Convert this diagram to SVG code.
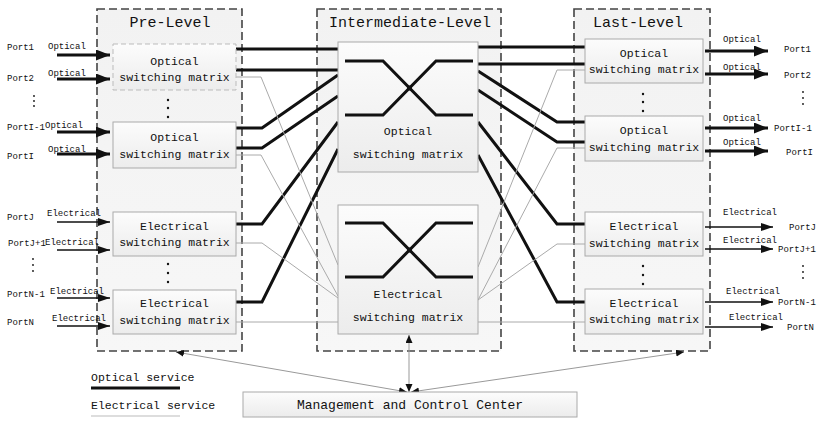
<svg xmlns="http://www.w3.org/2000/svg" width="818" height="421" viewBox="0 0 818 421">
<style>
text{font-family:"Liberation Mono","DejaVu Sans Mono",monospace;fill:#111}
.lvl{fill:url(#lvlg);stroke:#444;stroke-width:1.6;stroke-dasharray:8,4}
.box{fill:url(#boxg);stroke:#aaa;stroke-width:1}
.ttl{font-size:15px;text-anchor:middle}
.bt{font-size:11.5px;text-anchor:middle}
.pl{font-size:9px}
.thick{fill:none;stroke:#111;stroke-width:3}
.thin{fill:none;stroke:#aaa;stroke-width:1}
.oin{stroke:#111;stroke-width:3;marker-end:url(#ah)}
.ein{stroke:#111;stroke-width:1.5;marker-end:url(#ahs)}
.mgmt{stroke:#999;stroke-width:1;fill:none;marker-start:url(#am);marker-end:url(#am)}
.dot{fill:#111}
</style>
<defs>
<linearGradient id="lvlg" x1="0" y1="0" x2="0" y2="1"><stop offset="0" stop-color="#f2f2f2"/><stop offset="1" stop-color="#f7f7f7"/></linearGradient>
<linearGradient id="boxg" x1="0" y1="0" x2="0" y2="1"><stop offset="0" stop-color="#fcfcfc"/><stop offset="1" stop-color="#ececec"/></linearGradient>
<marker id="ah" markerUnits="userSpaceOnUse" markerWidth="16" markerHeight="12" refX="14" refY="5.5" orient="auto"><path d="M0,0 L14,5.5 L0,11 z" fill="#111"/></marker>
<marker id="ahs" markerUnits="userSpaceOnUse" markerWidth="14" markerHeight="10" refX="12" refY="4" orient="auto"><path d="M0,0 L12,4 L0,8 z" fill="#111"/></marker>
<marker id="am" markerUnits="userSpaceOnUse" markerWidth="10" markerHeight="8" refX="8" refY="3.5" orient="auto-start-reverse"><path d="M0,0 L8,3.5 L0,7 z" fill="#111"/></marker>
</defs>
<rect width="818" height="421" fill="#fff"/>

<g id="pre-level">
<rect class="lvl" x="97" y="9" width="145" height="342"/>
<text class="ttl" x="170" y="27">Pre-Level</text>
<circle class="dot" cx="168" cy="100" r="1.2"/><circle class="dot" cx="168" cy="108" r="1.2"/><circle class="dot" cx="168" cy="117" r="1.2"/>
<circle class="dot" cx="168" cy="264" r="1.2"/><circle class="dot" cx="168" cy="273" r="1.2"/><circle class="dot" cx="168" cy="282" r="1.2"/>
</g>
<g id="intermediate-level">
<rect class="lvl" x="317" y="9" width="184" height="342"/>
<text class="ttl" x="410" y="27">Intermediate-Level</text>
</g>
<g id="last-level">
<rect class="lvl" x="574" y="9" width="136" height="342"/>
<text class="ttl" x="638" y="27">Last-Level</text>
<circle class="dot" cx="643" cy="94" r="1.2"/><circle class="dot" cx="643" cy="102" r="1.2"/><circle class="dot" cx="643" cy="111" r="1.2"/>
<circle class="dot" cx="643" cy="266" r="1.2"/><circle class="dot" cx="643" cy="275" r="1.2"/><circle class="dot" cx="643" cy="284" r="1.2"/>
</g>

<g id="connectors">
<path class="thick" d="M236,49 H338 M236,70 H338 M236,128 H262 L338,75 M236,148 H262 L338,96 M236,224 H262 L338,122 M236,302 H262 L338,149"/>
<path class="thin" d="M236,77 H261 L338,265 M236,155 H261 L338,296 M236,243 H262 L338,298 M236,322 H338"/>
<path class="thick" d="M478,47 H585 M478,64 H585 M478,71 L557,122 H585 M478,90 L557,142 H585 M478,122 L557,224 H585 M478,155 L557,302 H585"/>
<path class="thin" d="M585,70 H557 L478,267 M585,148 H557 L478,300 M585,244 H557 L478,300 M478,322 H585"/>
<line class="oin" x1="57" y1="55" x2="110" y2="55"/>
<line class="oin" x1="57" y1="79" x2="110" y2="79"/>
<line class="oin" x1="57" y1="132" x2="110" y2="132"/>
<line class="oin" x1="57" y1="154" x2="110" y2="154"/>
<line class="ein" x1="57" y1="222" x2="110" y2="222"/>
<line class="ein" x1="57" y1="250" x2="110" y2="250"/>
<line class="ein" x1="57" y1="298" x2="110" y2="298"/>
<line class="ein" x1="57" y1="326" x2="110" y2="326"/>
<line class="oin" x1="705" y1="51" x2="768" y2="51"/>
<line class="oin" x1="705" y1="74" x2="768" y2="74"/>
<line class="oin" x1="705" y1="128" x2="768" y2="128"/>
<line class="oin" x1="705" y1="151" x2="768" y2="151"/>
<line class="ein" x1="705" y1="227" x2="773" y2="227"/>
<line class="ein" x1="705" y1="249" x2="773" y2="249"/>
<line class="ein" x1="705" y1="302" x2="773" y2="302"/>
<line class="ein" x1="705" y1="327" x2="773" y2="327"/>
<line class="mgmt" x1="409" y1="392" x2="409" y2="335"/>
<line class="mgmt" x1="407" y1="392" x2="176" y2="352"/>
<line class="mgmt" x1="411" y1="392" x2="684" y2="352"/>
</g>

<g id="pre-opt1">
<rect x="113" y="44" width="123" height="46" fill="url(#boxg)" stroke="#bbb" stroke-dasharray="5,3"/>
<text class="bt" x="174.5" y="65">Optical</text><text class="bt" x="174.5" y="81">switching matrix</text>
</g>
<g id="pre-opt2">
<rect class="box" x="113" y="122" width="123" height="46"/>
<text class="bt" x="174.5" y="141">Optical</text><text class="bt" x="174.5" y="158">switching matrix</text>
</g>
<g id="pre-ele1">
<rect class="box" x="113" y="212" width="123" height="44"/>
<text class="bt" x="174.5" y="230">Electrical</text><text class="bt" x="174.5" y="246">switching matrix</text>
</g>
<g id="pre-ele2">
<rect class="box" x="113" y="290" width="123" height="44"/>
<text class="bt" x="174.5" y="307">Electrical</text><text class="bt" x="174.5" y="324">switching matrix</text>
</g>

<g id="mid-opt">
<rect class="box" x="338" y="42" width="140" height="130"/>
<path class="thick" d="M345,61 H383 L436,115 H473 M345,115 H383 L436,61 H473"/>
<circle cx="409.5" cy="88" r="2.5" fill="#111"/>
<text class="bt" x="408" y="135">Optical</text><text class="bt" x="408" y="158">switching matrix</text>
</g>
<g id="mid-ele">
<rect class="box" x="338" y="205" width="140" height="129"/>
<path class="thick" d="M345,223 H383 L436,277 H473 M345,277 H383 L436,223 H473"/>
<circle cx="409.5" cy="250" r="2.5" fill="#111"/>
<text class="bt" x="408" y="298">Electrical</text><text class="bt" x="408" y="321">switching matrix</text>
</g>

<g id="last-opt1">
<rect class="box" x="585" y="39" width="118" height="44"/>
<text class="bt" x="644" y="57">Optical</text><text class="bt" x="644" y="73">switching matrix</text>
</g>
<g id="last-opt2">
<rect class="box" x="585" y="116" width="118" height="45"/>
<text class="bt" x="644" y="134">Optical</text><text class="bt" x="644" y="151">switching matrix</text>
</g>
<g id="last-ele1">
<rect class="box" x="585" y="212" width="118" height="44"/>
<text class="bt" x="644" y="230">Electrical</text><text class="bt" x="644" y="247">switching matrix</text>
</g>
<g id="last-ele2">
<rect class="box" x="585" y="289" width="118" height="45"/>
<text class="bt" x="644" y="307">Electrical</text><text class="bt" x="644" y="323">switching matrix</text>
</g>

<g id="in-ports">
<text class="pl" x="7" y="50">Port1</text><text class="pl" x="48" y="49">Optical</text>
<text class="pl" x="7" y="81">Port2</text><text class="pl" x="48" y="76">Optical</text>
<circle class="dot" cx="34" cy="96" r="0.9"/><circle class="dot" cx="34" cy="101" r="0.9"/><circle class="dot" cx="34" cy="106" r="0.9"/>
<text class="pl" x="7" y="130">PortI-1</text><text class="pl" x="45" y="128">Optical</text>
<text class="pl" x="7" y="159">PortI</text><text class="pl" x="48" y="152">Optical</text>
<text class="pl" x="7" y="220">PortJ</text><text class="pl" x="47" y="216">Electrical</text>
<text class="pl" x="8" y="246">PortJ+1</text><text class="pl" x="45" y="245">Electrical</text>
<circle class="dot" cx="33" cy="259" r="0.9"/><circle class="dot" cx="33" cy="265" r="0.9"/><circle class="dot" cx="33" cy="271" r="0.9"/>
<text class="pl" x="7" y="297">PortN-1</text><text class="pl" x="50" y="294">Electrical</text>
<text class="pl" x="7" y="325">PortN</text><text class="pl" x="52" y="321">Electrical</text>
</g>
<g id="out-ports">
<text class="pl" x="723" y="42">Optical</text><text class="pl" x="784" y="52">Port1</text>
<text class="pl" x="723" y="70">Optical</text><text class="pl" x="784" y="78">Port2</text>
<circle class="dot" cx="803" cy="92" r="0.9"/><circle class="dot" cx="803" cy="98" r="0.9"/><circle class="dot" cx="803" cy="104" r="0.9"/>
<text class="pl" x="723" y="121">Optical</text><text class="pl" x="774" y="131">PortI-1</text>
<text class="pl" x="723" y="145">Optical</text><text class="pl" x="786" y="155">PortI</text>
<text class="pl" x="723" y="215">Electrical</text><text class="pl" x="789" y="230">PortJ</text>
<text class="pl" x="723" y="243">Electrical</text><text class="pl" x="778" y="252">PortJ+1</text>
<circle class="dot" cx="803" cy="266" r="0.9"/><circle class="dot" cx="803" cy="272" r="0.9"/><circle class="dot" cx="803" cy="278" r="0.9"/>
<text class="pl" x="726" y="294">Electrical</text><text class="pl" x="778" y="305">PortN-1</text>
<text class="pl" x="729" y="320">Electrical</text><text class="pl" x="787" y="330">PortN</text>
</g>

<g id="management">
<rect class="box" x="243" y="392" width="334" height="25"/>
<text x="410" y="409" font-size="13" text-anchor="middle">Management and Control Center</text>
</g>
<g id="legend">
<text x="91" y="381" font-size="11.5">Optical service</text>
<line x1="91" y1="388" x2="180" y2="388" stroke="#111" stroke-width="3"/>
<text x="91" y="409" font-size="11.5">Electrical service</text>
<line x1="91" y1="416" x2="180" y2="416" stroke="#bbb" stroke-width="1"/>
</g>
</svg>
